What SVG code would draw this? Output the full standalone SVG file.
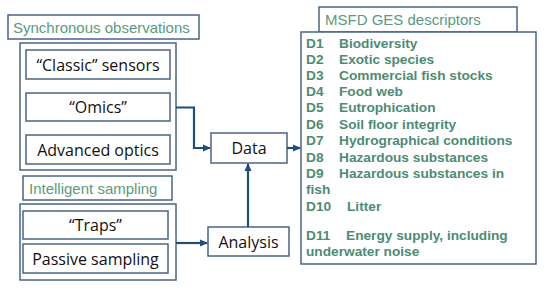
<svg xmlns="http://www.w3.org/2000/svg" width="550" height="292" viewBox="0 0 550 292">
<style>
.box{fill:#fff;stroke:#4a6585;stroke-width:1.5}
.lbl{font-family:"Liberation Sans",Arial,sans-serif;font-size:15px;fill:#5a9a80}
.nt{font-family:"Open Sans","Liberation Sans",sans-serif;font-size:16px;fill:#111;text-anchor:middle;dominant-baseline:central}
.d{font-family:"Liberation Sans",Arial,sans-serif;font-size:13.7px;font-weight:bold;fill:#4e8b72}
.c{fill:none;stroke:#1f4e79;stroke-width:2.2}
</style>
<defs>
<marker id="ah" markerWidth="8" markerHeight="8" refX="7" refY="4" orient="auto" markerUnits="userSpaceOnUse">
<path d="M0,0.5 L8,4 L0,7.5 Z" fill="#1f4e79"/>
</marker>
</defs>
<rect width="550" height="292" fill="#fff"/>
<g id="sync-label"><rect class="box" x="8" y="15" width="191" height="24"/><text class="lbl" x="13" y="32.5">Synchronous observations</text></g>
<g id="sync-group"><rect class="box" x="20" y="43" width="156" height="127"/></g>
<g id="classic"><rect class="box" x="26" y="50" width="144" height="29"/><text class="nt" x="98" y="64.5">“Classic” sensors</text></g>
<g id="omics"><rect class="box" x="26" y="93" width="144" height="28"/><text class="nt" x="98" y="107">“Omics”</text></g>
<g id="optics"><rect class="box" x="26" y="135" width="144" height="29"/><text class="nt" x="98" y="149.5">Advanced optics</text></g>
<g id="intel-label"><rect class="box" x="23" y="176" width="149" height="24"/><text class="lbl" x="29" y="193.5">Intelligent sampling</text></g>
<g id="intel-group"><rect class="box" x="20" y="204" width="156" height="76"/></g>
<g id="traps"><rect class="box" x="23" y="211" width="145" height="28"/><text class="nt" x="95.5" y="225">“Traps”</text></g>
<g id="passive"><rect class="box" x="23" y="244" width="145" height="29"/><text class="nt" x="95.5" y="258.5">Passive sampling</text></g>
<g id="data"><rect class="box" x="211" y="133" width="76" height="30"/><text class="nt" x="249" y="148">Data</text></g>
<g id="analysis"><rect class="box" x="208" y="227" width="81" height="29"/><text class="nt" x="248.5" y="241.5">Analysis</text></g>
<g id="msfd-label"><rect class="box" x="319" y="7" width="198" height="25"/><text class="lbl" x="325" y="25">MSFD GES descriptors</text></g>
<g id="descriptors"><rect class="box" x="301" y="32" width="235" height="232"/>
<text class="d" x="306" y="48">D1</text><text class="d" x="339" y="48">Biodiversity</text>
<text class="d" x="306" y="64">D2</text><text class="d" x="339" y="64">Exotic species</text>
<text class="d" x="306" y="80">D3</text><text class="d" x="339" y="80">Commercial fish stocks</text>
<text class="d" x="306" y="96">D4</text><text class="d" x="339" y="96">Food web</text>
<text class="d" x="306" y="112">D5</text><text class="d" x="339" y="112">Eutrophication</text>
<text class="d" x="306" y="129">D6</text><text class="d" x="339" y="129">Soil floor integrity</text>
<text class="d" x="306" y="145">D7</text><text class="d" x="339" y="145">Hydrographical conditions</text>
<text class="d" x="306" y="162">D8</text><text class="d" x="339" y="162">Hazardous substances</text>
<text class="d" x="306" y="178">D9</text><text class="d" x="339" y="178">Hazardous substances in</text>
<text class="d" x="306" y="194">fish</text>
<text class="d" x="306" y="211">D10</text><text class="d" x="347" y="211">Litter</text>
<text class="d" x="306" y="240">D11</text><text class="d" x="346" y="240">Energy supply, including</text>
<text class="d" x="306" y="256">underwater noise</text>
</g>
<g id="connectors">
<path class="c" d="M176,107.5 H194 V148 H210" marker-end="url(#ah)"/>
<path class="c" d="M176,243 H207" marker-end="url(#ah)"/>
<path class="c" d="M248,227 V164" marker-end="url(#ah)"/>
<path class="c" d="M287,148 H300" marker-end="url(#ah)"/>
</g>
</svg>
